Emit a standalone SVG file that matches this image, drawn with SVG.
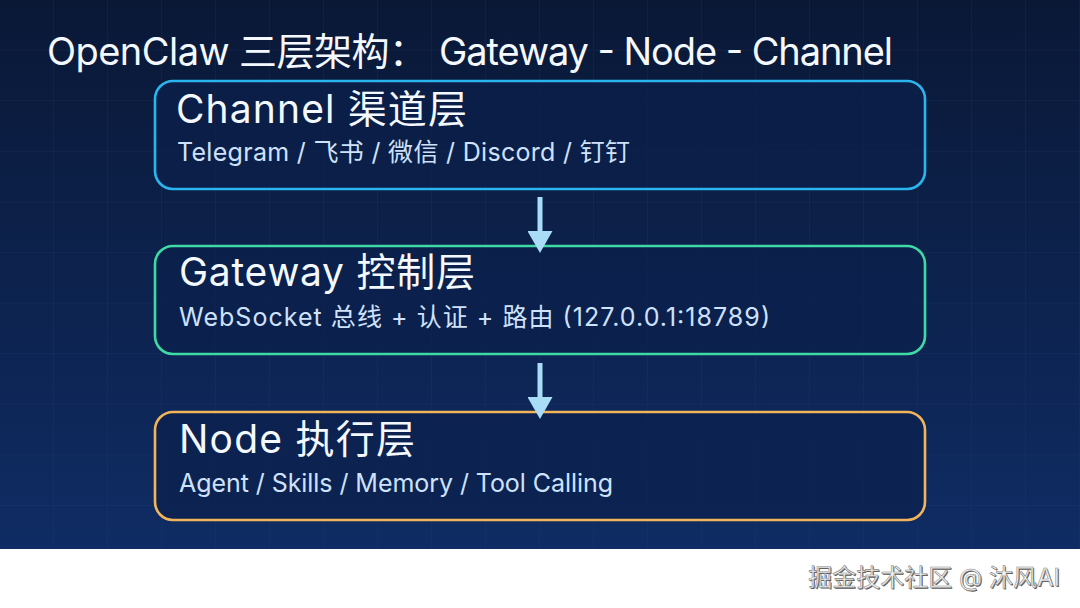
<svg xmlns="http://www.w3.org/2000/svg" width="1080" height="608" viewBox="0 0 1080 608">
  <defs>
    <linearGradient id="bg" x1="0" y1="0" x2="0" y2="1">
      <stop offset="0" stop-color="#0a1836"/>
      <stop offset="1" stop-color="#0f2c64"/>
    </linearGradient>
    <pattern id="grid" x="0" y="0" width="54" height="50.6" patternUnits="userSpaceOnUse">
      <path d="M54 0V50.6M0 50.6H54" fill="none" stroke="#2a4478" stroke-opacity="0.35" stroke-width="1"/>
    </pattern>
    <marker id="ah" markerWidth="6" markerHeight="5" refX="0" refY="2.5" orient="auto" markerUnits="strokeWidth">
      <path d="M0 0L4.4 2.5L0 5Z" fill="#a9dcf7"/>
    </marker>
  </defs>
  <style>
    .t{font-family:Inter,"Noto Sans CJK SC",sans-serif;}
    .title{font-size:38px;fill:#f4f8ff;}
    .h{font-size:39px;fill:#f4f8ff;}
    .s{font-size:25px;fill:#cfe2fb;}
    .box{fill:#0c1f4b;fill-opacity:0.7;stroke-width:2.6;}
    .conn{stroke:#a9dcf7;stroke-width:5;fill:none;}
    .wm{font-size:24px;}
  </style>
  <rect x="0" y="0" width="1080" height="549" fill="url(#bg)"/>
  <rect x="0" y="0" width="1080" height="549" fill="url(#grid)"/>
  <rect x="0" y="549" width="1080" height="59" fill="#ffffff"/>

  <text class="t title" y="65"><tspan x="47" textLength="380">OpenClaw 三层架构：</tspan><tspan x="439" textLength="454">Gateway - Node - Channel</tspan></text>

  <g id="channel">
    <rect class="box" x="155" y="81" width="770" height="108" rx="18" stroke="#2bb5ee"/>
    <text class="t h" x="176" y="123" textLength="291">Channel 渠道层</text>
    <text class="t s" x="177" y="161" textLength="453">Telegram / 飞书 / 微信 / Discord / 钉钉</text>
  </g>
  <g id="gateway">
    <rect class="box" x="155" y="246" width="770" height="108" rx="18" stroke="#3ed9a4"/>
    <text class="t h" x="179" y="286" textLength="296">Gateway 控制层</text>
    <text class="t s" x="179" y="326" textLength="591">WebSocket 总线 + 认证 + 路由 (127.0.0.1:18789)</text>
  </g>
  <g id="node">
    <rect class="box" x="155" y="412" width="770" height="108" rx="18" stroke="#f2b45a"/>
    <text class="t h" x="179" y="453" textLength="236">Node 执行层</text>
    <text class="t s" x="179" y="492" textLength="434">Agent / Skills / Memory / Tool Calling</text>
  </g>

  <g id="connectors">
    <line class="conn" x1="540" y1="197" x2="540" y2="231" marker-end="url(#ah)"/>
    <line class="conn" x1="540" y1="363" x2="540" y2="397" marker-end="url(#ah)"/>
  </g>

  <text class="t wm" x="1061" y="587" text-anchor="end" fill="#555555">掘金技术社区 @ 沐风AI</text>
  <text class="t wm" x="1060" y="586" text-anchor="end" fill="#f2f2f2" stroke="#8a8a8a" stroke-width="0.6">掘金技术社区 @ 沐风AI</text>
</svg>
